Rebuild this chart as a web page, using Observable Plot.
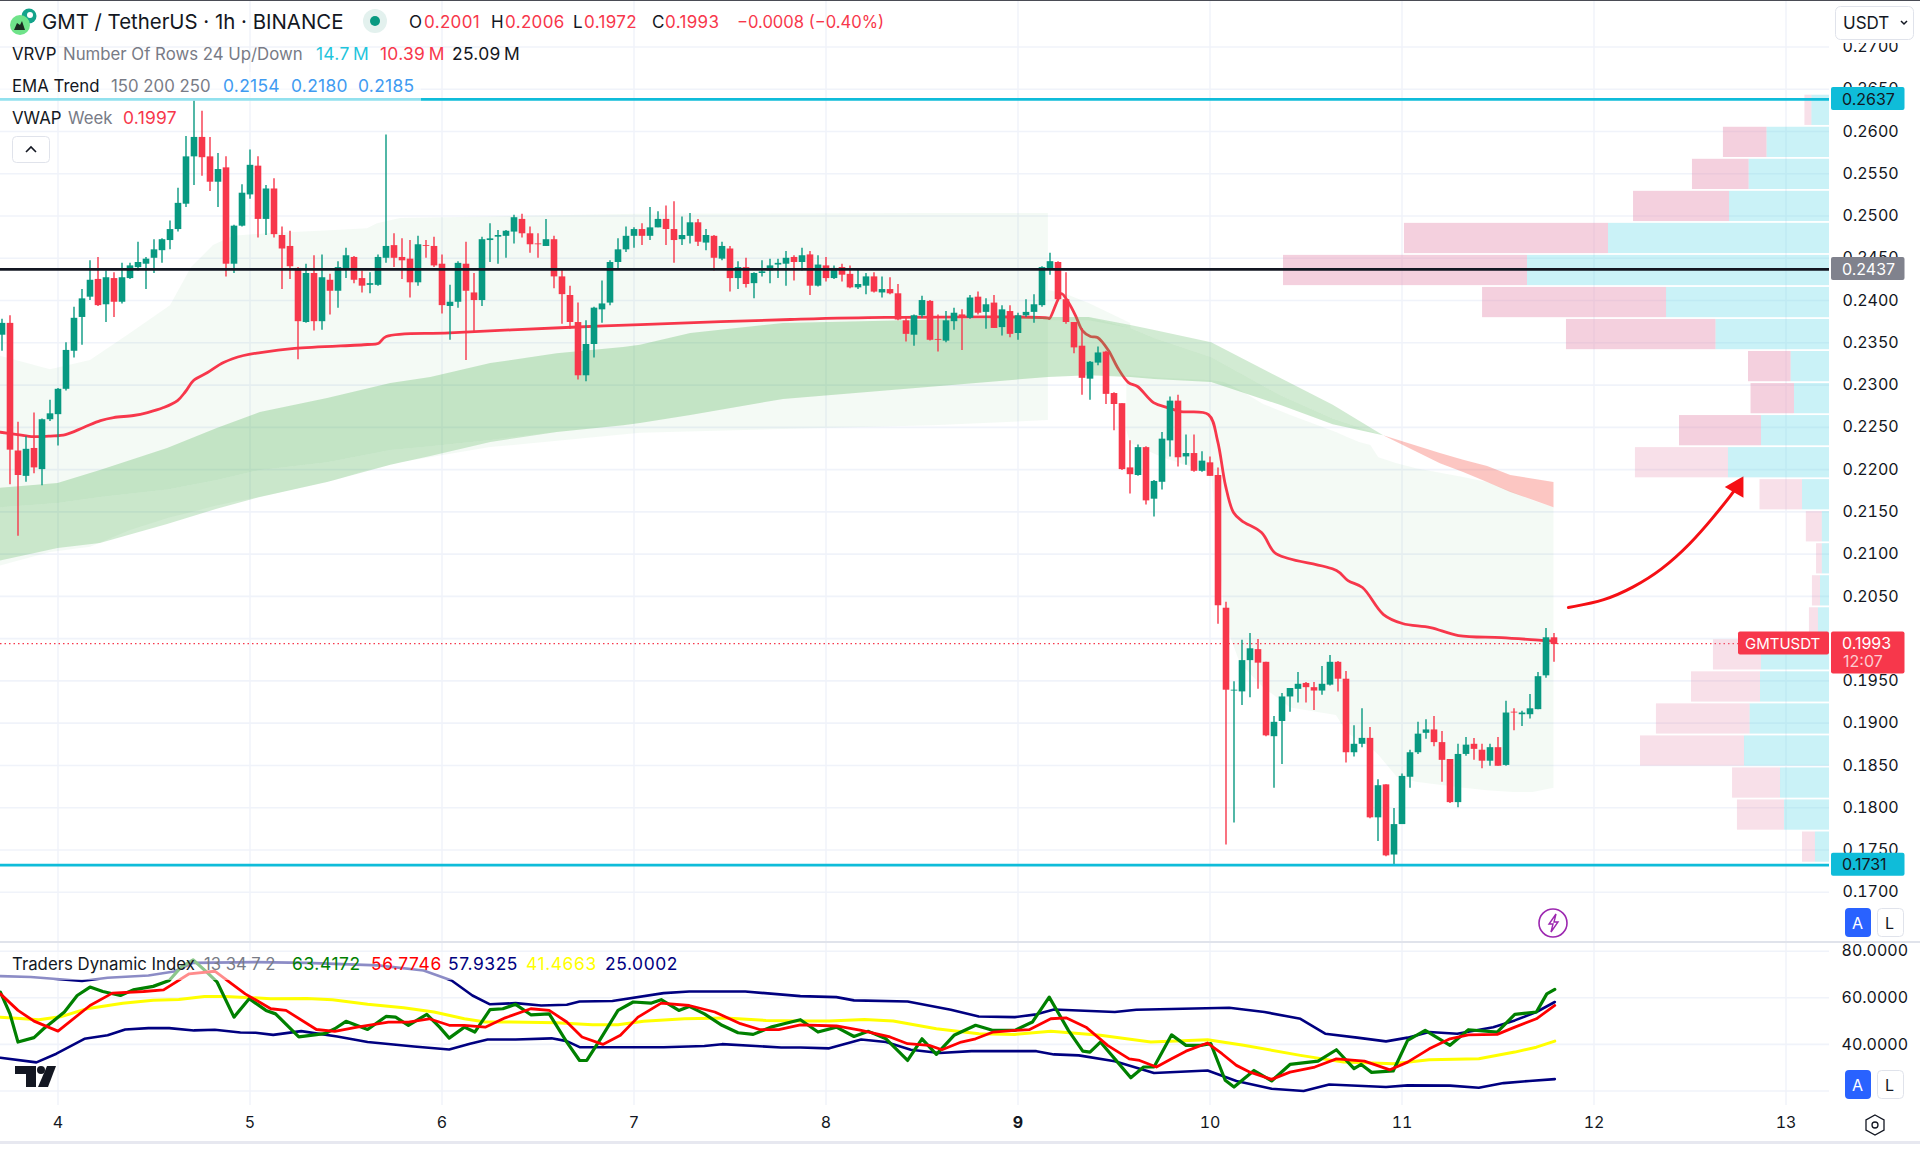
<!DOCTYPE html>
<html>
<head>
<meta charset="utf-8">
<script src="https://cdn.jsdelivr.net/npm/d3@7"></script>
<script src="https://cdn.jsdelivr.net/npm/@observablehq/plot@0.6"></script>
<style>
html,body{margin:0;padding:0;background:#fff}
#chart{position:relative;width:1920px;height:1149px;overflow:hidden;background:#fff;font-family:Inter,"Noto Sans",sans-serif;color:#131722}
#chart>svg{position:absolute;left:0;max-width:none}
.t{position:absolute;white-space:nowrap;line-height:1;transform:translateY(-50%)}
.box{position:absolute}
</style>
</head>
<body>
<div id="chart"></div>
<script>
// ---------- candles: hourly, prices in 1/10000 USDT; hour 0 = day 4 00:00 ----------
const firstHour = -7;
const opens = [2359,2373,2222,2192,2225,2200,2259,
2265,2295,2340,2380,2404,2425,2395,2426,2398,2426,2439,2443,2450,2459,2471,2484,2514,2570,2593,2570,2540,2557,2443,2488,
2525,2559,2496,2532,2477,2464,2438,2374,2432,2375,2424,2411,2437,2451,2426,2418,2418,2450,2465,2451,2449,2421,2465,2464,
2443,2393,2398,2443,2409,2400,2471,2475,2476,2481,2496,2479,2467,2464,2472,2428,2406,2374,2311,2348,2389,2397,2445,2460,
2476,2484,2476,2486,2496,2484,2472,2476,2492,2468,2476,2449,2461,2426,2439,2420,2432,2435,2442,2443,2451,2445,2454,2417,
2441,2426,2439,2431,2415,2417,2428,2409,2413,2408,2376,2359,2382,2399,2354,2352,2375,2383,2379,2404,2386,2397,2368,2387,
2361,2382,2386,2394,2437,2445,2401,2374,2346,2307,2326,2339,2290,2278,2202,2193,2226,2165,2185,2234,2281,2215,2219,2198,
2208,2193,2036,1938,1937,1974,1987,1972,1884,1902,1931,1940,1947,1942,1938,1945,1972,1952,1865,1875,1882,1788,1827,1744,
1780,1836,1865,1888,1892,1877,1857,1806,1863,1875,1868,1855,1871,1850,1913,1910,1910,1916,1956,2001];
const closes = [2373,2223,2193,2224,2202,2259,2266,
2295,2341,2379,2402,2424,2394,2427,2398,2427,2441,2445,2449,2460,2472,2484,2515,2570,2593,2569,2540,2555,2443,2488,2527,
2560,2496,2532,2478,2461,2440,2375,2432,2375,2427,2411,2439,2453,2424,2417,2420,2451,2464,2450,2447,2421,2466,2464,2441,
2394,2398,2444,2411,2400,2472,2473,2477,2482,2498,2479,2466,2466,2472,2428,2407,2374,2311,2348,2391,2396,2445,2460,2476,
2484,2476,2486,2496,2484,2471,2477,2492,2469,2477,2450,2464,2426,2439,2419,2432,2434,2441,2444,2450,2445,2453,2417,2442,
2426,2438,2430,2415,2419,2428,2410,2413,2408,2377,2360,2382,2400,2353,2353,2376,2385,2381,2403,2385,2395,2367,2389,2360,
2382,2386,2395,2439,2446,2401,2374,2344,2308,2327,2338,2289,2277,2200,2194,2226,2163,2186,2236,2281,2214,2219,2198,2210,
2192,2039,1939,1939,1974,1988,1971,1885,1901,1931,1941,1946,1942,1938,1946,1972,1952,1865,1875,1882,1788,1826,1743,1780,
1837,1865,1887,1892,1877,1856,1806,1863,1874,1869,1855,1871,1849,1912,1912,1912,1917,1955,2001,1993];
const highs = [2378,2382,2256,2239,2267,2260,2282,
2296,2350,2392,2413,2447,2451,2435,2433,2444,2444,2469,2451,2472,2473,2494,2533,2594,2637,2624,2593,2574,2570,2489,2537,
2578,2570,2536,2544,2487,2482,2439,2443,2453,2454,2431,2446,2462,2452,2435,2433,2454,2596,2479,2473,2471,2476,2471,2475,
2454,2418,2446,2469,2432,2475,2491,2483,2483,2501,2502,2487,2479,2496,2476,2438,2417,2397,2376,2392,2423,2447,2473,2487,
2486,2491,2510,2505,2512,2517,2499,2503,2496,2484,2477,2469,2464,2446,2450,2433,2447,2449,2449,2458,2453,2462,2458,2453,
2451,2441,2443,2441,2438,2432,2433,2428,2427,2419,2381,2383,2405,2400,2383,2387,2391,2389,2406,2410,2402,2406,2394,2394,
2385,2401,2407,2440,2456,2446,2433,2374,2367,2328,2345,2340,2291,2278,2234,2229,2227,2187,2244,2286,2288,2241,2241,2221,
2215,2202,2043,1949,1998,2006,1999,1972,1908,1935,1941,1960,1948,1948,1967,1980,1973,1961,1897,1917,1895,1833,1827,1799,
1840,1868,1901,1904,1908,1890,1857,1875,1883,1882,1875,1875,1883,1926,1917,1914,1934,1960,2012,2006];
const lows = [2340,2182,2121,2185,2195,2181,2257,
2228,2293,2332,2347,2400,2393,2374,2380,2396,2425,2435,2413,2432,2444,2460,2481,2510,2536,2547,2529,2510,2428,2432,2487,
2520,2474,2477,2474,2413,2425,2330,2373,2364,2365,2383,2391,2426,2420,2409,2408,2417,2444,2439,2425,2403,2417,2450,2439,
2384,2353,2391,2329,2362,2393,2445,2443,2450,2467,2474,2456,2450,2464,2414,2372,2366,2306,2304,2332,2373,2394,2437,2457,
2462,2465,2471,2486,2465,2444,2465,2467,2464,2459,2435,2447,2410,2413,2415,2402,2428,2420,2426,2417,2423,2435,2406,2416,
2422,2425,2422,2414,2413,2407,2409,2403,2407,2376,2351,2346,2379,2352,2339,2350,2365,2341,2378,2383,2366,2367,2358,2356,
2353,2380,2373,2392,2430,2400,2372,2337,2288,2282,2323,2277,2246,2199,2171,2192,2158,2144,2176,2215,2203,2205,2197,2197,
2192,2017,1756,1782,1921,1930,1940,1884,1823,1851,1913,1924,1924,1915,1933,1944,1937,1853,1860,1871,1787,1760,1742,1731,
1780,1823,1863,1881,1872,1830,1805,1800,1861,1856,1846,1849,1849,1849,1891,1896,1905,1916,1953,1972];

// ---------- VWAP ----------
const vwapHours = [-7.19,-5.06,-3.06,-0.94,0.94,3.19,5.31,6.94,9.44,11.19,13.19,14.94,15.94,16.94,18.69,20.69,23.19,25.31,29.56,38.69,40.01,41.03,48.94,64.19,72.81,91.56,103.44,123.81,123.94,124.94,125.44,126.31,127.19,128.06,129.06,129.94,131.31,132.44,133.81,134.94,136.94,138.69,140.31,143.81,144.94,145.94,146.94,147.94,150.44,152.06,153.81,159.81,161.25,163.06,165.69,168.06,171.56,175.06,180.44,185.69,187];
const vwapValues = [2244.2,2241.5,2239,2239.7,2241.5,2249.8,2258,2261.6,2264,2267.5,2273.4,2281.7,2292.4,2305.4,2314.8,2326.7,2335,2338.5,2343.3,2348,2349.2,2357.4,2361.8,2368.4,2371.6,2377.6,2380,2379.3,2378.7,2400,2408.3,2397.7,2382.3,2364.5,2357.4,2356.3,2340.9,2320.8,2303,2298.3,2279.3,2273.4,2268.7,2265.1,2234.4,2181.1,2149.2,2139.7,2125.5,2101.9,2094.8,2080.6,2068.7,2060.5,2028.5,2017.9,2013.1,2003.7,2001.3,1997.8,1997];

// ---------- EMA ribbon ----------
const ribbonHours = [-7.19,0,5.3,13.7,19.9,25.3,33.7,41.6,46.6,54.1,62.4,70.7,72.8,79.1,90.7,123.8,128.9,134.1,137.1,144.2,152.8,159.4,165.7];
const ribbonUpper = [2178,2183.5,2199,2225,2248.6,2267.5,2284,2302,2309,2325.5,2337,2344.4,2347,2361,2373,2380,2380,2370.5,2364.5,2350,2308,2276,2240];
const ribbonShadeTop = [2178,2183.5,2199,2225,2248.6,2267.5,2284,2302,2309,2325.5,2337,2344.4,2347,2361,2373,2380,2380,2367,2355,2332.6,2287.6,2260,2240];
const ribbonShadeBottom = [2155,2160,2167,2176,2187,2199,2208,2222.6,2227,2234.4,2244,2252,2254.5,2264,2283,2309,2311,2309,2306.6,2303,2276,2253,2240];
const ribbonLower = [2092,2106.6,2112.5,2135,2153,2167,2184.7,2205,2215.5,2232,2244,2252,2254.5,2264,2283,2309,2311,2309,2306.6,2303,2276,2253,2240];
const bearHours = [165.7,172.8,175.7,178.7,181.6,187];
const bearUpper = [2240,2219,2211,2203.6,2193,2184.7];
const bearLower = [2240,2207,2196.5,2184.7,2173,2155];

// ---------- pale trend fill ----------
const paleAHours = [-7.19,-0.94,4.06,9.06,14.06,16.69,19.44,21.94,26.19,34.69,38.69,39.94,42.81,54.06,72.81,109.4,123.8];
const paleATop = [2334,2318,2329,2361,2394,2439,2465,2476,2479,2483,2485,2491,2497,2499,2502,2503,2503];
const paleABottom = [2086,2102,2108,2128,2143,2149,2156,2161,2169,2187,2199,2201,2208,2226,2243,2252,2258];
const paleBHours = [123.8,125.8,128.9,134.1];
const paleBTop = [2412,2408,2396.5,2373];
const paleBBottom = [2376,2376,2376,2367];
const paleCHours = [133.6,134.1,138.1,144.2,145.8,146.6,147.8,150.7,154.1,159.8,161.2,162.7,164.1,165.1,167.4,169.8,175.7,178.7,181.9,184.4,187];
const paleCTop = [2311,2311,2308,2305,2303,2299.5,2293.6,2277,2264,2244,2238,2232,2228.5,2214,2207,2201,2190.6,2184.7,2173,2163,2155];
const paleCBottom = [2246,2231,2214,2195,2033,2001,1970.5,1942,1918,1909,1888,1879,1871,1862,1836,1830,1823,1820,1818,1818,1823];

// ---------- volume profile (millions), rows from the top ----------
const rowEdges = [2644,2606.1,2568.2,2530.3,2492.4,2454.5,2416.6,2378.7,2340.8,2302.9,2265,2227.1,2189.2,2151.3,2113.4,2075.5,2037.6,1999.7,1961.8,1923.9,1886,1848.1,1810.2,1772.3,1734.4];
const volUp = [0.147,0.521,0.670,0.833,1.842,2.517,1.358,0.946,0.320,0.292,0.567,0.842,0.225,0.060,0.060,0.075,0.092,0.567,0.575,0.662,0.708,0.408,0.375,0.117];
const volDown = [0.058,0.363,0.472,0.800,1.700,2.033,1.533,1.246,0.355,0.362,0.683,0.775,0.354,0.133,0.048,0.067,0.075,0.400,0.575,0.780,0.867,0.400,0.392,0.108];
const valueAreaRows = [1,2,3,4,5,6,7,8,9,10];

// ---------- forecast arrow ----------
const arrowHours = [188.8,193.4,196.9,200.4,204.1,206.9,209.3,209.9];
const arrowValues = [2036.8,2045,2060.5,2080.6,2112.5,2143.3,2171.7,2180];
const arrowHead = {hour:209.9, value:2179.5};

// ---------- Traders Dynamic Index ----------
const rsiHours = [-7.2,-6,-5,-3,-1.8,-0.5,0.8,2.4,4,5.6,7.8,9.4,11.9,13.9,15.4,16.9,18.6,19.9,22,23.9,26,27.2,30.1,33.3,34.6,36,38.7,41,42.2,43.8,46.1,47.7,48.9,50.8,52.1,54,55.6,57.2,59.1,61.4,63.6,65.2,66.1,67.7,70,71.9,74.1,75.4,77.6,78.9,80.8,83,85,86.9,89.1,91,92.8,95,97.3,99.5,101.3,103.5,106.2,108,109.8,112,114.7,116.9,119.6,121.8,123.9,126.3,128.1,129,130.3,132.1,134.1,135.7,137,139.2,141,142.8,144.1,145.9,147,149.5,151.7,154,157.5,159.8,162,162.9,164.2,166.9,168.7,170.9,174,176.3,179.9,182.1,184.8,186.1,187.1];
const rsiValues = [62.4,53.1,41,42.9,46.7,50.3,53.9,61,64.6,62.7,61,63.4,64.9,67.4,73.2,76.3,71,66.7,51.7,59.6,54.6,53.1,43.2,44.6,46.7,49.9,46.4,52,51.7,48.2,52.9,47.4,42.7,47.4,45.3,54.9,55.3,57.2,52.7,53.1,41,33.1,33.1,41.7,54.6,58.2,57.7,59.2,54.6,56.3,53.1,48.2,45,44.3,47.4,49.1,50.6,45.3,47.4,43.4,45.6,42.4,33.1,42.4,35.7,43.9,48.2,46,46,49.6,60.3,46,37.1,36.7,41,33.8,25.7,30.3,30.3,44.1,39.6,39.6,40.3,24.6,21.7,28.8,24.3,31.4,32.8,37.7,29.6,31.4,28,28.6,41.7,46,39.6,46.3,45.3,52.9,53.9,61.7,63.6];
const signalHours = [-7.2,-5,-3,0,4,6.8,10.7,13.2,16.4,19.6,23.4,26.6,28.5,32.3,34.6,37.4,41.3,43.8,46.4,48.9,50.8,53.4,55.9,59.1,61.4,63.6,65.5,68.1,70.3,72.5,75.4,78.9,82.1,85.3,87.8,90.1,92.8,97.3,100.4,104,106.2,108.9,110.5,112.9,114.7,116.9,119.6,121.4,124.1,126,128.5,131.2,133.9,135.2,137.3,139.2,141,143.7,145.5,147.3,149,151.7,154,157.1,159.8,163.3,166.5,168.7,171.4,174,176.3,179.9,182.1,184.8,187.1];
const signalValues = [61.7,54.6,50,45.7,56.7,62,62.7,63.4,70.3,71.4,61.7,55.3,54.6,46.4,45.6,47.4,49.6,49.6,51,48.2,48.2,47.4,51.4,55.3,54.6,49.6,43.2,40,43.9,51.7,57.7,56.7,53.9,48.9,46.3,46.3,48.4,47.9,46,43.2,40.3,39.6,37.7,41,42.4,45.3,46,46.3,51,51.4,47.4,39.6,33.8,33.1,30.3,33.8,37.1,40.6,36,31,28.1,25,28.1,30.3,33.8,32.8,29.1,32.4,38.1,42.4,44.1,44.3,47.4,51,56.7];
const baseHours = [-7.2,-2.4,0.5,3.6,8.1,11.9,15.1,18.3,20.9,26.6,31.1,34.3,38.7,43.2,47,50.8,53.4,56.6,62.3,66.8,70,73.2,78.3,83.4,88.5,92.8,96.4,100.8,104.4,109.8,115.1,119.6,124.1,130.3,136.6,143.7,148.2,155.3,160.7,166.9,171.4,177.6,182.1,184.8,187.1];
const baseValues = [51.7,50.6,52,55.3,57.7,58.9,59.3,60.6,60.6,59.6,59.7,59.2,57.2,55.7,53.9,51,49.6,49.6,49.3,48.4,48.4,49.9,51,51.3,50.3,50,50,50.7,50,46.7,44.6,44.3,45.6,43.9,41,42,39.6,35.3,32.4,31.7,33.4,33.8,36.7,38.8,41.4];
const upperHours = [-7.2,-3.4,3,6.2,11.3,14.5,16.9,24.7,31.1,40,45.7,49.2,51.8,54,57.2,60.4,63.6,65.2,69.3,75.7,78.9,85.9,92.8,97.3,99.5,106.2,111.6,115.1,119.6,122.3,124.5,132.1,134.8,146.4,150.8,155.3,158.4,162.4,166,168.7,171.4,174.9,179.4,182.1,184.8,187.1];
const upperValues = [69.3,68.9,67.2,68.6,69.6,71.3,75,75.3,75,73.9,71.7,67.4,61,57.2,57.7,56.7,57,58.4,58.6,62,62.7,62.7,60.7,60.3,58.9,58.4,54.9,52,51.7,52.9,55,53.9,54.9,55.7,53.9,51,44.6,42.9,41.3,42.9,45.3,44.6,47.4,50.3,53.9,58.2];
const lowerHours = [-7.2,-2.7,-0.2,3.3,6.2,8.4,11.3,13.9,17,19.6,22.8,24.7,26.9,30.4,34.9,38.7,44.5,48.9,51.5,53.7,57.2,61.7,63.6,65.2,75.7,80.8,83,87.2,90.4,92.8,96.4,100.4,103.5,106.6,110.2,114.2,122.3,124.5,127.6,132.1,137,143.7,147.3,151.7,155.7,158.9,166,168.7,174,177.6,180.7,183.9,187.1];
const lowerValues = [34.3,32.3,36,42.4,43.9,46.4,47,47,46,46.3,45.1,45,44.1,45.7,43.4,41,39.1,37.8,40.3,42.1,42.1,42.6,41.4,38.8,38.8,39.3,40.1,39.3,38.7,38.7,38.3,42.1,41,37.7,36.3,37.1,37.1,35.7,35.3,32.8,27.7,28.8,24.3,21,20,22.8,21.7,22.4,22.3,21.4,23.4,24.3,25.1];

// ---------- axis ticks and price levels ----------
const priceTicks = [0.17,0.175,0.18,0.185,0.19,0.195,0.2,0.205,0.21,0.215,0.22,0.225,0.23,0.235,0.24,0.245,0.25,0.255,0.26,0.265,0.27];
const dayLabels = [4,5,6,7,8,9,10,11,12,13];
const dayHours = [0,24,48,72,96,120,144,168,192,216];
const tdiTicks = [20,40,60,80];
const tdiLabelled = [40,60,80];
const resistance = 0.2638, support = 0.1732, pivot = 0.2437, lastPrice = 0.1994;

// ---------- colours ----------
const UP="#089981", DOWN="#f7374b", INK="#131722", GRID="#f0f3fa", CYAN="#0fbcd9";

const price = v => v/10000;
const zip = (hs, cols) => hs.map((hour,i)=>Object.fromEntries([["hour",hour],...Object.entries(cols).map(([k,a])=>[k,price(a[i])])]));
const pairs = (xs, ys) => xs.map((x,i)=>({x, y:ys[i]}));

const candles = opens.map((o,i)=>({hour:firstHour+i,open:price(o),close:price(closes[i]),high:price(highs[i]),low:price(lows[i])}));
const ups = candles.filter(d=>d.close>=d.open), downs = candles.filter(d=>d.close<d.open);
const ribbon = zip(ribbonHours,{u:ribbonUpper,st:ribbonShadeTop,sb:ribbonShadeBottom,l:ribbonLower});
const bear = zip(bearHours,{u:bearUpper,l:bearLower});
const paleA = zip(paleAHours,{u:paleATop,l:paleABottom});
const paleB = zip(paleBHours,{u:paleBTop,l:paleBBottom});
const paleC = zip(paleCHours,{u:paleCTop,l:paleCBottom});
const vwap = zip(vwapHours,{v:vwapValues});
const arrow = zip(arrowHours,{v:arrowValues});

const yPrice = {domain:[0.27550,0.16405], range:[0,942]};
const xHours = {domain:[-7.1875,221.4375], range:[0,1829]};
const base = {width:1920, height:942, marginLeft:0, marginRight:91, marginTop:0, marginBottom:0,
  style:{background:"transparent", fontFamily:"Inter,'Noto Sans',sans-serif", fontSize:"16px", color:INK, overflow:"visible"}};

// ---------- main pane ----------
const main = Plot.plot({...base, x:{...xHours,axis:null}, y:yPrice, marks:[
  Plot.gridY(priceTicks,{stroke:GRID,strokeOpacity:1,strokeWidth:1.6}),
  Plot.gridX(dayHours,{stroke:GRID,strokeOpacity:1,strokeWidth:1.4}),
  Plot.axisY({anchor:"right",ticks:priceTicks,tickFormat:d=>d.toFixed(4),tickSize:0,tickPadding:13,label:null,fontSize:16,fill:INK}),
  Plot.areaY(paleA,{x:"hour",y1:"u",y2:"l",fill:"#4caf50",fillOpacity:0.06}),
  Plot.areaY(paleB,{x:"hour",y1:"u",y2:"l",fill:"#4caf50",fillOpacity:0.06}),
  Plot.areaY(paleC,{x:"hour",y1:"u",y2:"l",fill:"#4caf50",fillOpacity:0.06}),
  Plot.ruleY([lastPrice],{stroke:DOWN,strokeWidth:1.2,strokeDasharray:"1.5 3"}),
  Plot.line(vwap,{x:"hour",y:"v",stroke:DOWN,strokeWidth:2.8,curve:"catmull-rom"}),
  Plot.areaY(ribbon,{x:"hour",y1:"u",y2:"st",fill:"#4caf50",fillOpacity:0.25}),
  Plot.areaY(ribbon,{x:"hour",y1:"st",y2:"sb",fill:"#4caf50",fillOpacity:0.29}),
  Plot.areaY(ribbon,{x:"hour",y1:"sb",y2:"l",fill:"#4caf50",fillOpacity:0.25}),
  Plot.areaY(bear,{x:"hour",y1:"u",y2:"l",fill:"#f44336",fillOpacity:0.3}),
  Plot.ruleX(ups,{x:"hour",y1:"low",y2:"high",stroke:UP,strokeWidth:1.4}),
  Plot.ruleX(downs,{x:"hour",y1:"low",y2:"high",stroke:DOWN,strokeWidth:1.4}),
  Plot.ruleX(ups,{x:"hour",y1:"open",y2:"close",stroke:UP,strokeWidth:6.6}),
  Plot.ruleX(downs,{x:"hour",y1:"open",y2:"close",stroke:DOWN,strokeWidth:6.6}),
  Plot.line(arrow,{x:"hour",y:"v",stroke:"#f50f14",strokeWidth:3,curve:"basis"}),
  Plot.dot([arrowHead],{x:"hour",y:d=>price(d.value),symbol:"triangle",r:8,rotate:30,fill:"#f50f14"})
]});
main.style.top="0px";

// ---------- volume profile + price levels overlay ----------
const rows = volUp.map((u,i)=>({i,top:price(rowEdges[i]),bottom:price(rowEdges[i+1]),up:u,total:u+volDown[i],va:valueAreaRows.includes(i)}));
function priceTag(value, label, fill, textFill, extra){
  return (index, scales) => {
    const y = scales.y(value);
    const g = d3.create("svg:g").attr("text-anchor","start");
    const h = extra ? 42 : 23;
    const y0 = y-11.8;
    g.append("rect").attr("x",1831).attr("width",73.5).attr("y",y0).attr("height",h).attr("rx",2).attr("fill",fill);
    g.append("text").attr("x",1842).attr("y",y).attr("dy","0.36em").attr("fill",textFill).attr("font-size",16).text(label);
    if (extra) g.append("text").attr("x",1843).attr("y",y+18.5).attr("dy","0.36em").attr("fill",textFill).attr("fill-opacity",0.75).attr("font-size",16).text(extra);
    return g.node();
  };
}
function symbolTag(value, label){
  return (index, scales) => {
    const y = scales.y(value);
    const g = d3.create("svg:g").attr("text-anchor","start");
    g.append("rect").attr("x",1738).attr("width",91).attr("y",y-11.8).attr("height",23).attr("rx",2).attr("fill",DOWN);
    g.append("text").attr("x",1745).attr("y",y).attr("dy","0.36em").attr("fill","#fff").attr("font-size",15).text(label);
    return g.node();
  };
}
const overlay = Plot.plot({...base, x:{domain:[0,4.55],range:[1829,1283],axis:null}, y:{...yPrice,axis:null}, marks:[
  Plot.rectX(rows,{x1:0,x2:"up",y1:"top",y2:"bottom",fill:"#5bd8e6",fillOpacity:0.32,insetTop:0.9,insetBottom:0.9}),
  Plot.rectX(rows,{x1:"up",x2:"total",y1:"top",y2:"bottom",fill:"#e58fb0",fillOpacity:d=>d.va?0.42:0.28,insetTop:0.9,insetBottom:0.9}),
  Plot.ruleY([resistance,support],{stroke:CYAN,strokeWidth:2.6}),
  Plot.ruleY([pivot],{stroke:INK,strokeWidth:2.8}),
  priceTag(resistance,"0.2637",CYAN,INK),
  priceTag(pivot,"0.2437","#80828d","#fff"),
  priceTag(support,"0.1731",CYAN,INK),
  priceTag(lastPrice,"0.1993",DOWN,"#fff","12:07"),
  symbolTag(lastPrice,"GMTUSDT")
]});
overlay.style.top="0px";

// ---------- Traders Dynamic Index pane ----------
const line = (xs,ys,stroke,w) => Plot.line(pairs(xs,ys),{x:"x",y:"y",stroke,strokeWidth:w,curve:"linear"});
const tdi = Plot.plot({width:1920,height:207,marginLeft:0,marginRight:91,marginTop:0,marginBottom:44,
  style:base.style,
  x:xHours, y:{domain:[83.73,13.78],range:[0,163]}, marks:[
  Plot.gridY(tdiTicks,{stroke:GRID,strokeOpacity:1,strokeWidth:1.6}),
  Plot.gridX(dayHours,{stroke:GRID,strokeOpacity:1,strokeWidth:1.4}),
  Plot.axisY({anchor:"right",ticks:tdiLabelled,tickFormat:d=>d.toFixed(4),tickSize:0,tickPadding:12,label:null,fontSize:16,fill:INK}),
  Plot.axisX({ticks:dayHours.filter(h=>h!==120),tickFormat:h=>dayLabels[dayHours.indexOf(h)],tickSize:0,tickPadding:11,label:null,fontSize:16,fill:INK}),
  Plot.axisX({ticks:[120],tickFormat:h=>dayLabels[dayHours.indexOf(h)],tickSize:0,tickPadding:11,label:null,fontSize:16,fontWeight:700,fill:INK}),
  line(upperHours,upperValues,"#000080",2.6),
  line(lowerHours,lowerValues,"#000080",2.6),
  line(baseHours,baseValues,"#ffff00",3),
  line(rsiHours,rsiValues,"#008000",3.2),
  line(signalHours,signalValues,"#ff0000",2.8)
]});
tdi.style.top="942px";

const root = document.getElementById("chart");
root.append(main, tdi, overlay);

// ---------- chrome and legends as real text ----------
function box(x,y,w,h,css){const d=document.createElement("div");d.className="box";d.style.cssText=`left:${x}px;top:${y}px;width:${w}px;height:${h}px;${css||""}`;root.append(d);return d;}
function t(x,y,s,color,size,ls){const d=document.createElement("div");d.className="t";d.textContent=s;d.style.cssText=`left:${x}px;top:${y}px;color:${color||INK};font-size:${size||16}px;letter-spacing:${ls||0}px`;root.append(d);return d;}

box(0,0,1920,1,"background:#4a4c55");
box(0,941,1920,2,"background:#e0e3eb");
box(0,1141,1920,2.5,"background:#e7e8f0");
box(1830,1,90,42,"background:#fff");
box(0,72,421,29,"background:rgba(255,255,255,.55)");
box(0,952,680,28,"background:rgba(255,255,255,.55)");

// top title row
const GREY="#787b86", R="#f7374b", B="#3f9bf1", C="#1fc5dc";
t(42,22,"GMT / TetherUS · 1h · BINANCE",INK,20.4);
[["O",409,"0.2001",424],["H",491,"0.2006",505],["L",573,"0.1972",584],["C",652,"0.1993",665]].forEach(([k,kx,v,vx])=>{t(kx,22,k,INK,17);t(vx,22,v,R,17,0.35);});
t(737,22,"−0.0008 (−0.40%)",R,16.6);
t(12,54,"VRVP",INK,16.8);t(63,54,"Number Of Rows 24 Up/Down",GREY,16.8);t(316,54,"14.7\u2009M",C,17.4,0.3);t(380,54,"10.39\u2009M",R,17.4,0.3);t(452,54,"25.09\u2009M",INK,17.4,0.3);
t(12,86,"EMA Trend",INK,16.8);t(111,86,"150 200 250",GREY,16.8);t(223,86,"0.2154",B,17.4,0.3);t(291,86,"0.2180",B,17.4,0.3);t(358,86,"0.2185",B,17.4,0.3);
t(12,118,"VWAP",INK,16.8);t(68,118,"Week",GREY,16.8);t(123,118,"0.1997",R,17.4,0.3);
t(12,964,"Traders Dynamic Index",INK,16.8);t(204,964,"13 34 7 2",GREY,16.6);
t(292,964,"63.4172","#008000",17.4,0.6);t(371,964,"56.7746","#ff0000",17.4,0.6);t(448,964,"57.9325","#000080",17.4,0.6);t(526,964,"41.4663","#ffff00",17.4,0.6);t(605,964,"25.0002","#000080",17.4,0.6);

// small controls drawn as inline svg
const ns = `xmlns="http://www.w3.org/2000/svg"`;
const deco = document.createElement("div");
deco.innerHTML = `<svg ${ns} width="1920" height="1149" style="position:absolute;left:0;top:0;pointer-events:none">
 <circle cx="29" cy="16" r="7.5" fill="#13a38b"/><circle cx="30" cy="15" r="3" fill="#fff"/>
 <circle cx="20" cy="25" r="10" fill="#6fe38a"/><path d="M14 30l3-7 3 2 2-4 3 9z" fill="#1a2a20"/>
 <circle cx="375" cy="21" r="12" fill="#e3f1ee"/><circle cx="375" cy="21" r="5" fill="#089981"/>
 <rect x="12.5" y="136.5" width="37" height="26" rx="4" fill="#fff" stroke="#e0e3eb"/><path d="M26 152l5-5 5 5" fill="none" stroke="${INK}" stroke-width="1.6"/>
 <rect x="1835.5" y="6.5" width="78" height="33" rx="5" fill="#fff" stroke="#e0e3eb"/>
 <path d="M1901 21l3 3 3-3" fill="none" stroke="${INK}" stroke-width="1.5"/>
 <circle cx="1553" cy="923" r="14" fill="#fff" stroke="#9c27b0" stroke-width="1.6"/><path d="M1556 914l-7 10h4l-2 8 7-10h-4z" fill="none" stroke="#9c27b0" stroke-width="1.4"/>
 <rect x="1845" y="908" width="26" height="29" rx="4" fill="#2962ff"/><rect x="1877.5" y="908.5" width="26" height="28" rx="4" fill="#fff" stroke="#e0e3eb"/>
 <rect x="1845" y="1070" width="26" height="29" rx="4" fill="#2962ff"/><rect x="1877.5" y="1070.5" width="26" height="28" rx="4" fill="#fff" stroke="#e0e3eb"/>
 <path d="M15 1066h21v21h-10v-13h-11z" fill="${INK}"/><circle cx="41" cy="1070" r="4" fill="${INK}"/><path d="M47 1066h9l-8 21h-10z" fill="${INK}"/>
 <path d="M1875 1115l9 5v10l-9 5-9-5v-10z" fill="none" stroke="${INK}" stroke-width="1.3"/><circle cx="1875" cy="1125" r="3" fill="none" stroke="${INK}" stroke-width="1.3"/>
</svg>`;
root.append(deco);
t(1843,23,"USDT",INK,17);
t(1852,923,"A","#fff",16);t(1885,923,"L",INK,16);
t(1852,1085,"A","#fff",16);t(1885,1085,"L",INK,16);
</script>
</body>
</html>
